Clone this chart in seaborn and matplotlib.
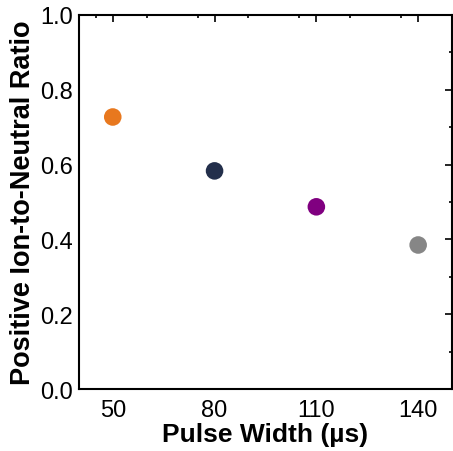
import matplotlib
matplotlib.use("Agg")
import matplotlib.pyplot as plt
import seaborn as sns
import pandas as pd
from matplotlib.ticker import MultipleLocator

# Data
pulse_width = [50, 80, 110, 140]
ratio = [0.727, 0.583, 0.487, 0.385]
colors = ["#E8781E", "#232F4B", "#800080", "#868686"]

df = pd.DataFrame({"Pulse Width": pulse_width, "Ratio": ratio})

sns.set_style("white")
plt.rcParams["font.family"] = ["Liberation Sans", "DejaVu Sans"]
plt.rcParams["text.color"] = "black"
plt.rcParams["axes.labelcolor"] = "black"

fig = plt.figure(figsize=(4.53, 4.52), dpi=100)
ax = fig.add_axes([0.174, 0.137, 0.824, 0.828])

sns.scatterplot(data=df, x="Pulse Width", y="Ratio", hue="Pulse Width",
                palette=colors, s=160, edgecolor="none", legend=False, ax=ax)

ax.set_xlim(40, 150)
ax.set_ylim(0, 1.0)
ax.set_xticks(pulse_width)
ax.xaxis.set_minor_locator(MultipleLocator(15))
ax.yaxis.set_major_locator(MultipleLocator(0.2))
ax.yaxis.set_minor_locator(MultipleLocator(0.1))
ax.yaxis.set_major_formatter(plt.FormatStrFormatter("%.1f"))

ax.tick_params(which="both", direction="in", top=True, right=True,
               width=1.2, colors="black", labelcolor="black")
ax.tick_params(which="major", length=5, labelsize=17, pad=4)
ax.tick_params(which="minor", length=2.5)
ax.tick_params(axis="x", which="major", pad=7)

for sp in ax.spines.values():
    sp.set_linewidth(1.5)
    sp.set_color("black")

ax.set_xlabel("Pulse Width (µs)", fontsize=19, fontweight="bold", labelpad=1)
ax.set_ylabel("Positive Ion-to-Neutral Ratio", fontsize=19.5, fontweight="bold", labelpad=3)

fig.savefig("out.png", dpi=100)
